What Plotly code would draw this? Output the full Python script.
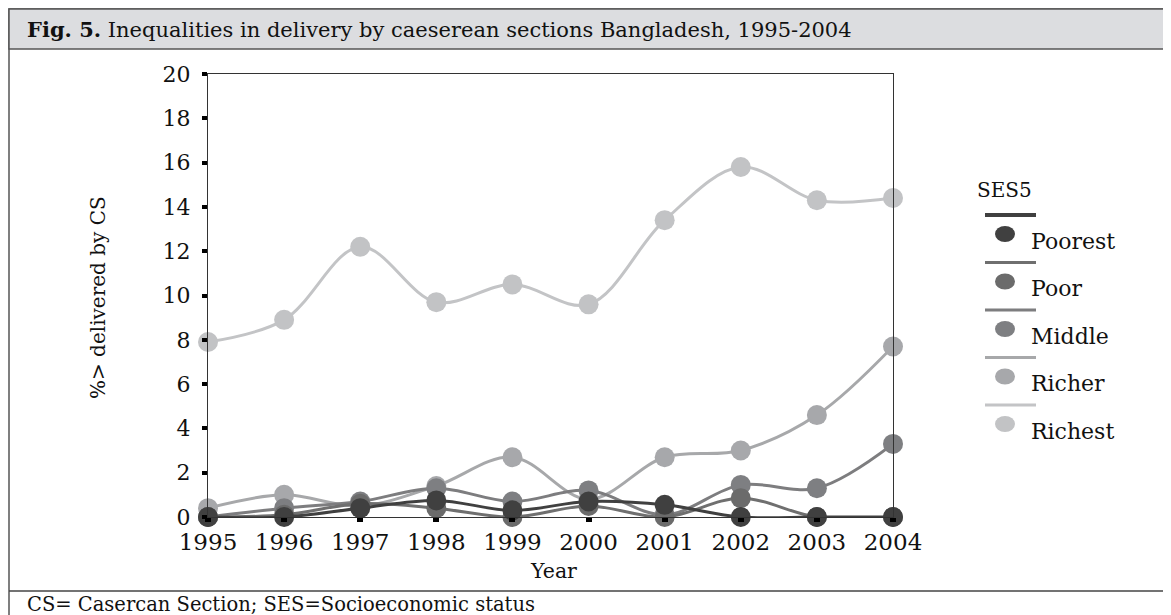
import plotly.graph_objects as go

W, H = 1171, 615
# plot box in pixels
X0, X1, Y0, Y1 = 200, 885, 66, 509

years = [1995, 1996, 1997, 1998, 1999, 2000, 2001, 2002, 2003, 2004]
groups = ['Poorest', 'Poor', 'Middle', 'Richer', 'Richest']
poorest = [0, 0, 0.4, 0.75, 0.3, 0.7, 0.55, 0, 0, 0]
poor = [0, 0.1, 0.6, 0.4, 0, 0.5, 0, 0.85, 0, 0]
middle = [0, 0.4, 0.7, 1.3, 0.7, 1.2, 0.1, 1.45, 1.3, 3.3]
richer = [0.4, 1.0, 0.5, 1.4, 2.7, 0.8, 2.7, 3.0, 4.6, 7.7]
richest = [7.9, 8.9, 12.2, 9.7, 10.5, 9.6, 13.4, 15.8, 14.3, 14.4]
series = [poorest, poor, middle, richer, richest]

line_cols = ['#404040', '#6f6f6f', '#7d7d7f', '#a7a8aa', '#c3c4c6']
mark_cols = ['#404040', '#6b6b6b', '#7e7f82', '#a7a8ab', '#c2c3c5']

FONT = 'DejaVu Serif'


def px(x):
    return (x - X0) / (X1 - X0)


def py(y):
    return (Y1 - y) / (Y1 - Y0)


fig = go.Figure()
# richest drawn first so the poorest sits on top
for name, vals, lc, mc in reversed(list(zip(groups, series, line_cols, mark_cols))):
    fig.add_trace(go.Scatter(
        x=years, y=vals, name=name, mode='lines+markers',
        line=dict(color=lc, width=3, shape='spline', smoothing=1),
        marker=dict(color=mc, size=20),
        cliponaxis=False, showlegend=False,
    ))

shapes = [
    # outer frame
    dict(type='rect', xref='paper', yref='paper', x0=px(1), x1=px(1169), y0=py(613), y1=py(1),
         line=dict(color='#555', width=1.5), layer='below'),
    # title bar
    dict(type='rect', xref='paper', yref='paper', x0=px(1), x1=px(1169), y0=py(41), y1=py(1),
         fillcolor='#dcdde0', line=dict(color='#555', width=1.5), layer='below'),
    # footer separator
    dict(type='line', xref='paper', yref='paper', x0=px(1), x1=px(1169), y0=py(583), y1=py(583),
         line=dict(color='#444', width=1.5)),
]

annotations = [
    dict(text='<b>Fig. 5.</b> Inequalities in delivery by caeserean sections Bangladesh, 1995-2004',
         xref='paper', yref='paper', x=px(17), y=py(22), xanchor='left', yanchor='middle',
         showarrow=False, font=dict(family=FONT, size=21, color='#111')),
    dict(text='CS= Casercan Section; SES=Socioeconomic status',
         xref='paper', yref='paper', x=px(17), y=py(596), xanchor='left', yanchor='middle',
         showarrow=False, font=dict(family=FONT, size=19.5, color='#111')),
    dict(text='%> delivered by CS', textangle=-90,
         xref='paper', yref='paper', x=px(90), y=py(290), xanchor='center', yanchor='middle',
         showarrow=False, font=dict(family=FONT, size=20, color='#111')),
    dict(text='Year',
         xref='paper', yref='paper', x=px(545), y=py(563), xanchor='center', yanchor='middle',
         showarrow=False, font=dict(family=FONT, size=20.5, color='#111')),
    dict(text='SES5',
         xref='paper', yref='paper', x=px(967), y=py(182), xanchor='left', yanchor='middle',
         showarrow=False, font=dict(family=FONT, size=20, color='#111')),
]

# hand-drawn legend: line above marker, label beside marker
for i, (name, lc, mc) in enumerate(zip(groups, line_cols, mark_cols)):
    step = 47.5 * i
    shapes.append(dict(type='line', xref='paper', yref='paper',
                       x0=px(977), x1=px(1028), y0=py(207 + step), y1=py(207 + step),
                       line=dict(color=lc, width=4 if i == 0 else 3)))
    shapes.append(dict(type='circle', xref='paper', yref='paper',
                       x0=px(987), x1=px(1007), y0=py(234 + step), y1=py(218 + step),
                       fillcolor=mc, line=dict(width=0)))
    annotations.append(dict(text=name, xref='paper', yref='paper',
                            x=px(1021), y=py(233 + step), xanchor='left', yanchor='middle',
                            showarrow=False, font=dict(family=FONT, size=22, color='#111')))

fig.update_layout(
    width=W, height=H, autosize=False,
    margin=dict(l=X0, r=W - X1, t=Y0, b=H - Y1),
    plot_bgcolor='white', paper_bgcolor='white',
    font=dict(family=FONT, size=22, color='#111'),
    shapes=shapes, annotations=annotations,
    xaxis=dict(range=[1995, 2004], tickvals=years, showgrid=False, zeroline=False,
               showline=True, mirror=True, linecolor='#333', linewidth=1,
               ticks='outside', ticklen=4, tickwidth=6, tickcolor='black',
               tickfont=dict(family=FONT, size=23)),
    yaxis=dict(range=[0, 20], dtick=2, showgrid=False, zeroline=False,
               showline=True, mirror=True, linecolor='#333', linewidth=1,
               ticks='outside', ticklen=5, tickwidth=4, tickcolor='black',
               ticklabelstandoff=7,
               tickfont=dict(family=FONT, size=22)),
)

fig.write_html('out.html')
